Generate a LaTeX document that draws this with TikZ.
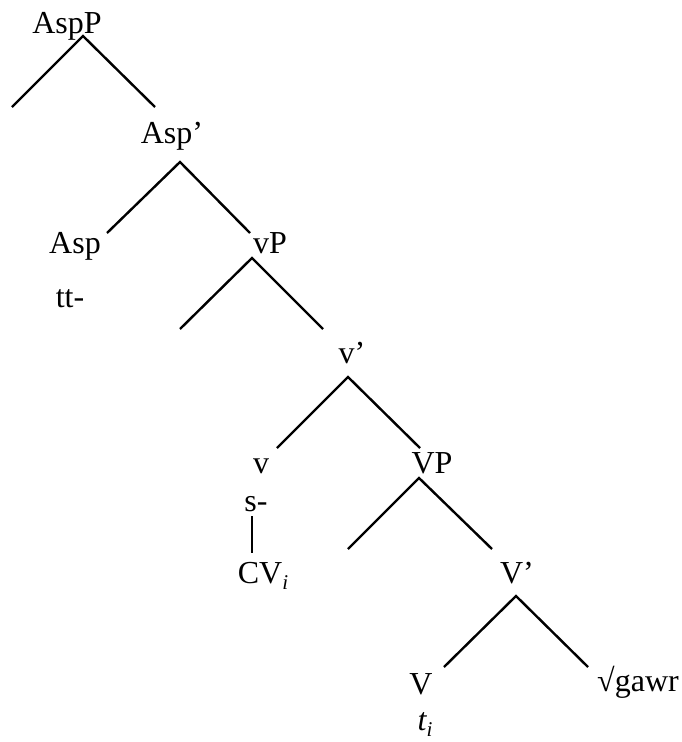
\documentclass[tikz,border=0pt]{standalone}
\usepackage{fontspec}
\setmainfont{Liberation Serif}
\newcommand{\lsub}[1]{\raisebox{-0.2em}{\fontsize{21}{21}\selectfont\itshape #1}}
\begin{document}
\begin{tikzpicture}[x=1pt,y=-1pt,
  lab/.style={anchor=base,inner sep=0pt,font=\fontsize{32}{36}\selectfont},
  br/.style={line width=2.4pt,line cap=butt},
  asso/.style={line width=1.2pt}]
\useasboundingbox (0,0) rectangle (681,742);
% labels
\node[lab] (AspP) at (67,33) {AspP};
\node[lab] (Aspbar) at (172,143) {Asp’};
\node[lab] (Asp) at (75,253) {Asp};
\node[lab] (tt) at (70,307) {tt-};
\node[lab] (vP) at (270,253) {vP};
\node[lab] (vbar) at (352,363) {v’};
\node[lab] (v) at (261,473) {v};
\node[lab] (s) at (256,511) {s-};
\node[lab] (CV) at (263,583) {CV\lsub{i}};
\node[lab] (VP) at (432,473) {VP};
\node[lab] (Vbar) at (517,583) {V’};
\node[lab] (V) at (421,694) {V};
\node[lab] (root) at (638,691) {√gawr};
\node[lab] (t) at (425,730) {\itshape t\lsub{i}};
% branch points
\coordinate (a1) at (83,36);   \coordinate (a1l) at (12,107);  \coordinate (a1r) at (155,107);
\coordinate (a2) at (180,162); \coordinate (a2l) at (107,233); \coordinate (a2r) at (250,233);
\coordinate (a3) at (252,258); \coordinate (a3l) at (180,329); \coordinate (a3r) at (323,329);
\coordinate (a4) at (348,377); \coordinate (a4l) at (277,448); \coordinate (a4r) at (420,448);
\coordinate (a5) at (419,478); \coordinate (a5l) at (348,549); \coordinate (a5r) at (492,549);
\coordinate (a6) at (516,596); \coordinate (a6l) at (444,667); \coordinate (a6r) at (588,667);
\coordinate (s1) at (252,516); \coordinate (s2) at (252,553);
\draw[br] (a1l) -- (a1) -- (a1r);
\draw[br] (a2l) -- (a2) -- (a2r);
\draw[br] (a3l) -- (a3) -- (a3r);
\draw[br] (a4l) -- (a4) -- (a4r);
\draw[br] (a5l) -- (a5) -- (a5r);
\draw[br] (a6l) -- (a6) -- (a6r);
\draw[asso] (s1) -- (s2);
\end{tikzpicture}
\end{document}
